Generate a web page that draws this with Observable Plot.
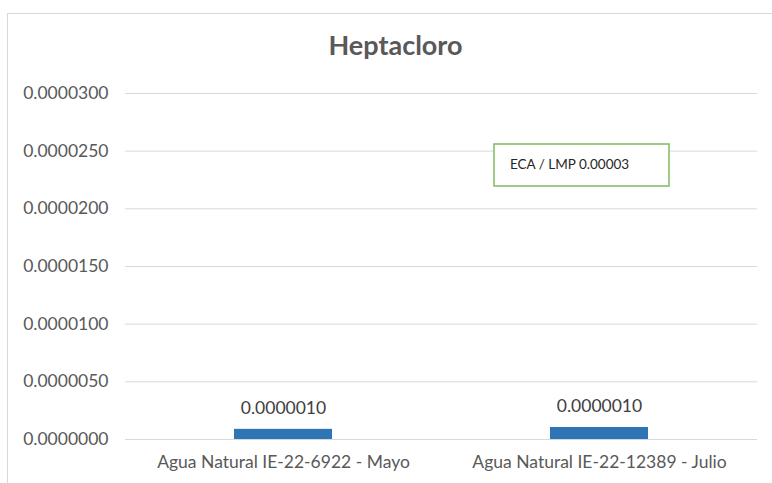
<!DOCTYPE html>
<html>
<head>
<meta charset="utf-8">
<script src="https://cdn.jsdelivr.net/npm/d3@7"></script>
<script src="https://cdn.jsdelivr.net/npm/@observablehq/plot@0.6"></script>
<style>
  html, body { margin: 0; padding: 0; background: #fff; }
  #chart { position: relative; width: 772px; height: 483px; }
  svg { font-family: Lato, "Open Sans", sans-serif; }
</style>
</head>
<body>
<div id="chart"></div>
<script>
const title = "Heptacloro";
const categories = ["Agua Natural IE-22-6922 - Mayo", "Agua Natural IE-22-12389 - Julio"];
const values = [0.00000088, 0.00000104];
const valueLabels = ["0.0000010", "0.0000010"];
const yTicks = [0, 0.000005, 0.00001, 0.000015, 0.00002, 0.000025, 0.00003];
const annotationText = "ECA / LMP 0.00003";
const annotationCategory = categories[1];
const annotationValue = 0.0000238;

const data = categories.map((c, i) => ({category: c, value: values[i], label: valueLabels[i]}));

const boxW = 175, boxH = 42, boxDx = -18, textInset = 16;

const plot = Plot.plot({
  width: 772,
  height: 483,
  marginLeft: 125,
  marginRight: 15,
  marginTop: 93,
  marginBottom: 44,
  style: {background: "#fff", color: "#595959", fontSize: "17px"},
  x: {domain: categories, paddingInner: 0.69, paddingOuter: 0.345, label: null},
  y: {domain: [0, 0.00003], label: null},
  marks: [
    Plot.frame({stroke: "#d9d9d9", insetTop: -80, insetLeft: -118, insetRight: -40, insetBottom: -80}),
    Plot.gridY(yTicks, {stroke: "#d9d9d9", strokeOpacity: 1, strokeWidth: 1}),
    Plot.axisY(yTicks, {tickSize: 0, tickPadding: 17, tickFormat: d => d.toFixed(7), fill: "#595959", fontSize: 17.5, label: null}),
    Plot.axisX({tickSize: 0, tickPadding: 16, fill: "#595959", fontSize: 17.5, label: null}),
    Plot.barY(data, {x: "category", y: "value", fill: "#2e75b6"}),
    Plot.text(data, {x: "category", y: "value", text: "label", dy: -21, fill: "#404040", fontSize: 17.5}),
    Plot.text([title], {frameAnchor: "top", dy: -58, dx: -46, text: d => d, fontSize: 27, fontWeight: "bold", fill: "#595959"}),
    Plot.text([{category: annotationCategory, value: annotationValue, t: annotationText}], {
      x: "category", y: "value", text: "t", dx: boxDx - boxW / 2 + textInset, textAnchor: "start",
      fontSize: 13.5, fill: "#262626",
      render: (index, scales, vals, dims, context, next) => {
        const g = next(index, scales, vals, dims, context);
        const tx = vals.x[index[0]], ty = vals.y[index[0]];
        const rect = document.createElementNS("http://www.w3.org/2000/svg", "rect");
        rect.setAttribute("x", tx - textInset);
        rect.setAttribute("y", ty - boxH / 2);
        rect.setAttribute("width", boxW);
        rect.setAttribute("height", boxH);
        rect.setAttribute("fill", "#fff");
        rect.setAttribute("stroke", "#7fba5e");
        rect.setAttribute("stroke-width", 1.5);
        g.insertBefore(rect, g.firstChild);
        return g;
      }
    })
  ]
});

document.getElementById("chart").appendChild(plot);
</script>
</body>
</html>
